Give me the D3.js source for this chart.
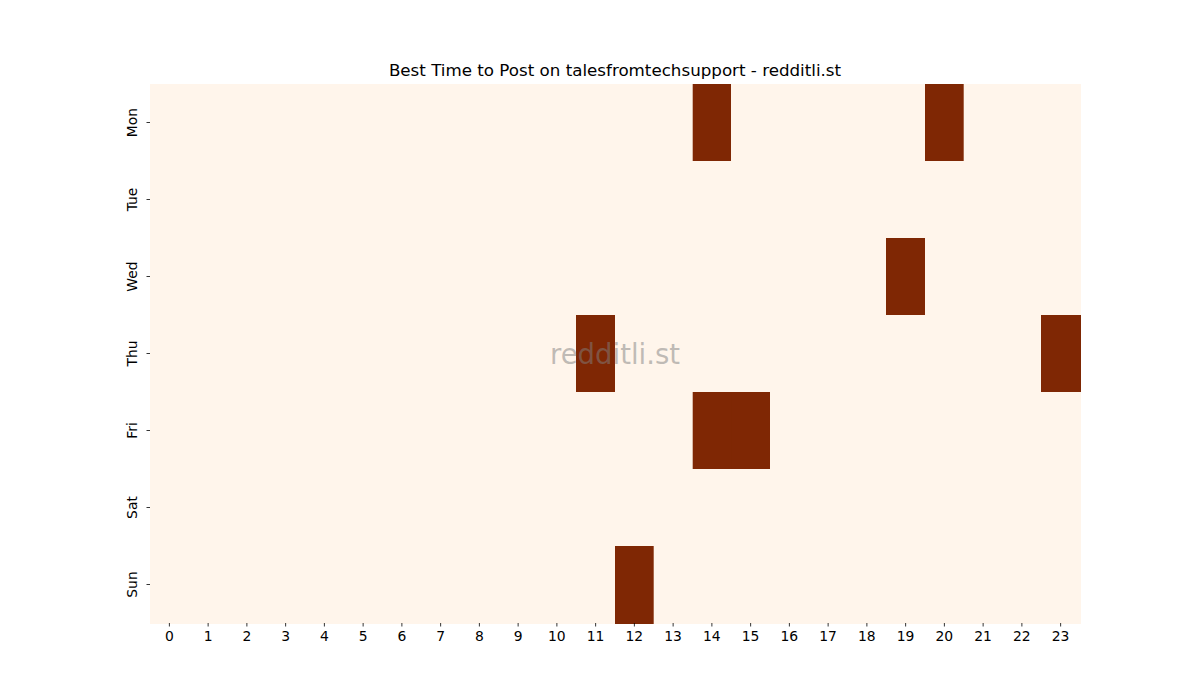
<!DOCTYPE html>
<html><head><meta charset="utf-8">
<script src="https://cdn.jsdelivr.net/npm/d3@7"></script>
<style>body{margin:0;background:#fff}svg{display:block;font-family:"DejaVu Sans",sans-serif}</style>
</head><body>
<script>
const days = ["Mon","Tue","Wed","Thu","Fri","Sat","Sun"];
const hours = ["0","1","2","3","4","5","6","7","8","9","10","11","12","13","14","15","16","17","18","19","20","21","22","23"];
// best posting hours per day (value 1), all others 0
const bestMon = [14, 20];
const bestTue = [];
const bestWed = [19];
const bestThu = [11, 23];
const bestFri = [14, 15];
const bestSat = [];
const bestSun = [12];
const best = [bestMon,bestTue,bestWed,bestThu,bestFri,bestSat,bestSun];

const W=1200,H=700, L=150,R=1080,T=84,B=623;
const svg=d3.select("body").append("svg").attr("width",W).attr("height",H);
const x=d3.scaleBand().domain(hours).range([L,R]);
const y=d3.scaleBand().domain(days).range([T,B]);
const color=d3.scaleLinear().domain([0,1]).range(["#fff5eb","#7f2704"]);

const cells=[];
days.forEach((d,i)=>hours.forEach(h=>cells.push({d,h,v:best[i].includes(+h)?1:0})));
svg.append("g").attr("shape-rendering","crispEdges").selectAll("rect").data(cells).join("rect")
  .attr("x",c=>x(c.h)).attr("y",c=>y(c.d))
  .attr("width",x.bandwidth()+0.6).attr("height",y.bandwidth()+0.6)
  .attr("fill",c=>color(c.v)).attr("stroke",c=>color(c.v)).attr("stroke-width",0.3);

const xa=svg.append("g").attr("transform",`translate(0,${B})`).call(d3.axisBottom(x).tickSize(3.5).tickPadding(5));
const ya=svg.append("g").attr("transform",`translate(${L},0)`).call(d3.axisLeft(y).tickSize(3.5).tickPadding(5));
[xa,ya].forEach(a=>{a.select(".domain").remove();a.selectAll("text").attr("font-size",13.9).attr("font-family","DejaVu Sans").attr("fill","#000");a.selectAll("line").attr("stroke","#000").attr("stroke-width",0.8);});
ya.selectAll(".tick text").each(function(){
  d3.select(this).attr("x",null).attr("text-anchor","middle")
   .attr("transform","translate(-17,0) rotate(-90)").attr("y",0).attr("dy","0.32em");
});

svg.append("text").attr("x",(L+R)/2).attr("y",T-8).attr("text-anchor","middle")
  .attr("font-size",16.7).attr("fill","#000").text("Best Time to Post on talesfromtechsupport - redditli.st");
svg.append("text").attr("x",(L+R)/2).attr("y",(T+B)/2).attr("text-anchor","middle").attr("dominant-baseline","central")
  .attr("font-size",27.5).attr("fill","#808080").attr("fill-opacity",0.5).text("redditli.st");
</script>
</body></html>
